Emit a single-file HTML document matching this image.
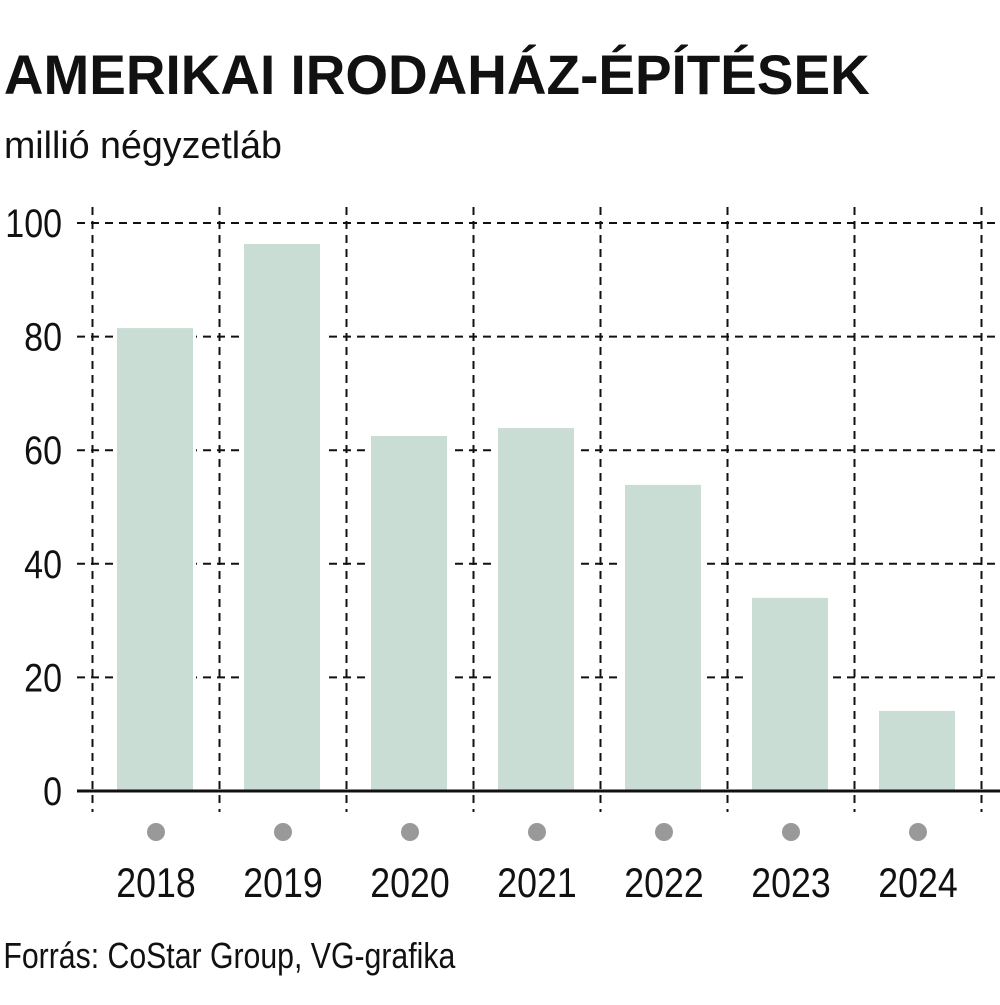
<!DOCTYPE html>
<html><head><meta charset="utf-8"><style>
body{margin:0;background:#fff;}
svg text{font-family:"Liberation Sans Narrow","Liberation Sans",sans-serif;}
</style></head><body>
<svg width="1000" height="1000" xmlns="http://www.w3.org/2000/svg">
<text x="4" y="94" font-size="56" font-weight="bold" transform="scale(0.98,1)" fill="#111">AMERIKAI IRODAHÁZ-ÉPÍTÉSEK</text>
<text x="4" y="158" font-size="38" transform="scale(0.99,1)" fill="#111">millió négyzetláb</text>
<text x="4" y="968" font-size="36" transform="scale(0.84,1)" fill="#111">Forrás: CoStar Group, VG-grafika</text>
<g id="grid"></g><g id="bars"></g><g id="axis"></g>
</svg>
<script>
const categories=["2018","2019","2020","2021","2022","2023","2024"];
const values=[81.5,96.3,62.5,63.9,53.9,34.0,14.1];
const yTicks=[0,20,40,60,80,100];
const NS="http://www.w3.org/2000/svg";
const x0=92.5,step=127,barW=76,yBase=791,yTop=223,yMax=100;
const y=v=>yBase-(v/yMax)*(yBase-yTop);
const xc=i=>x0+step*i+step/2;
function mk(t,a,p){const e=document.createElementNS(NS,t);for(const k in a)e.setAttribute(k,a[k]);p.appendChild(e);return e;}
const grid=document.getElementById('grid'),bars=document.getElementById('bars'),axis=document.getElementById('axis');
yTicks.forEach(t=>{
 if(t>0){const l=mk('line',{x1:77,x2:1000,y1:y(t),y2:y(t),stroke:'#111','stroke-width':2,'stroke-dasharray':'8 6'},grid);
 
 }
 const tx=mk('text',{x:62,y:y(t)+14,'font-size':40,'text-anchor':'end',fill:'#111',transform:`translate(${62*0.15},0) scale(0.85,1)`},axis);
 tx.setAttribute('x',62/0.85-62*0.15/0.85);
 tx.textContent=t;
 
 
});
for(let i=0;i<=categories.length;i++){
 const l=mk('line',{x1:x0+step*i,x2:x0+step*i,y1:207,y2:812,stroke:'#111','stroke-width':2,'stroke-dasharray':'8 6'},grid);
 
 
}
categories.forEach((c,i)=>{
 const r=mk('rect',{x:xc(i)-barW/2-1,y:y(values[i]),width:barW,height:yBase-y(values[i]),fill:'#c9ddd4',stroke:'#fff','stroke-width':6,'paint-order':'stroke'},bars);
 
 
 const d=mk('circle',{cx:xc(i),cy:832,r:9,fill:'#999'},axis);
 
 
 const t=mk('text',{x:xc(i)/0.85,y:897,'font-size':42,'text-anchor':'middle',fill:'#111',transform:'scale(0.85,1)'},axis);
 t.textContent=c;
 
 
});
const base=mk('line',{x1:77,x2:1000,y1:yBase,y2:yBase,stroke:'#111','stroke-width':3},axis);


</script>
</body></html>
